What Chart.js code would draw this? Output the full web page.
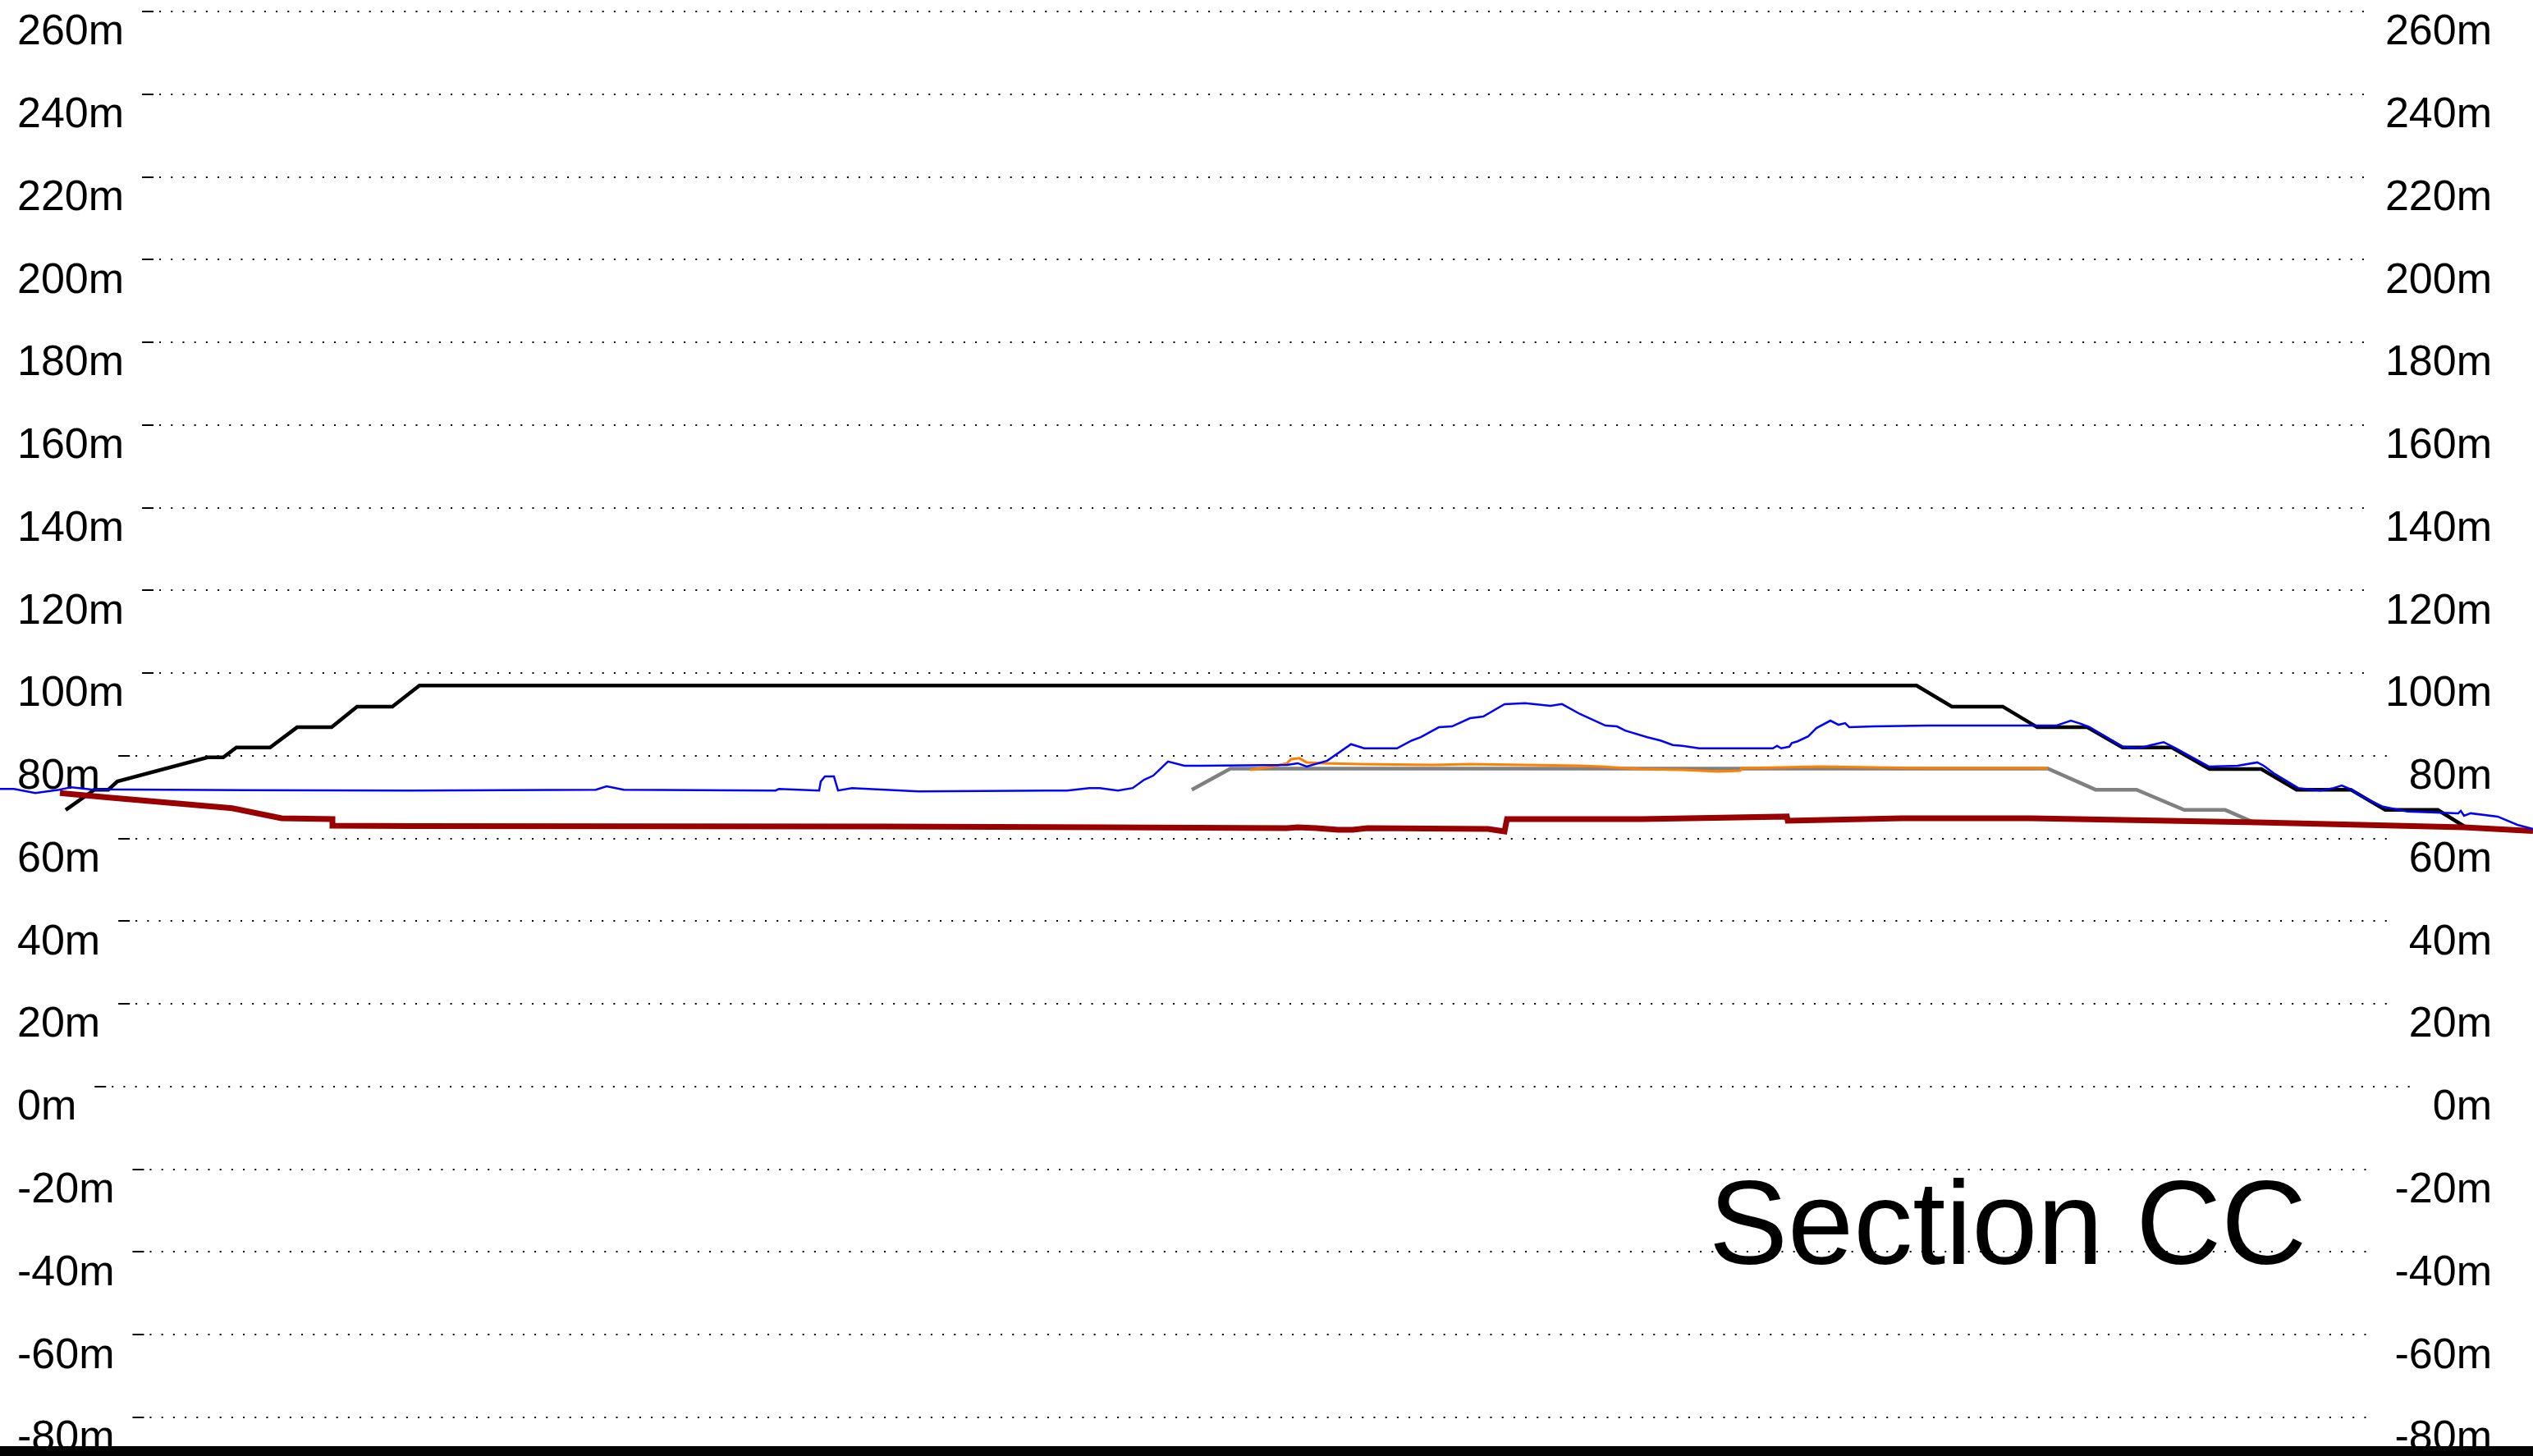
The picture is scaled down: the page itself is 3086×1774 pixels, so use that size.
<!DOCTYPE html>
<html>
<head>
<meta charset="utf-8">
<script src="https://cdn.jsdelivr.net/npm/chart.js@4.4.1/dist/chart.umd.min.js"></script>
<style>
  html, body { margin: 0; padding: 0; background: #fff; }
  #wrap { width: 3086px; height: 1774px; position: relative; }
</style>
</head>
<body>
<div id="wrap"><canvas id="sectionChart"></canvas></div>
<script>
// elevation ticks (m)
const levelTicks = [260, 240, 220, 200, 180, 160, 140, 120, 100, 80, 60, 40, 20, 0, -20, -40, -60, -80];

// design profile (black)
const designX = [80, 115, 132, 143, 253, 272, 288, 329, 362, 404, 435, 478, 511, 2335, 2378, 2440, 2482, 2543, 2586, 2646, 2692, 2755, 2798, 2864, 2906, 2970, 3005];
const designY = [66.9, 71.8, 71.8, 73.8, 79.6, 79.6, 82.0, 82.0, 86.9, 86.9, 91.9, 91.9, 97.0, 97.0, 91.9, 91.9, 86.9, 86.9, 82.0, 82.0, 76.8, 76.8, 71.8, 71.8, 66.9, 66.9, 62.6];

// existing ground (blue)
const groundX = [0, 17, 43, 72, 87, 110, 300, 500, 726, 739, 760, 945, 949, 998, 1000, 1005, 1016, 1021, 1038, 1119, 1275, 1300, 1327, 1340, 1362, 1380, 1394, 1405, 1423, 1443, 1461, 1568, 1581, 1592, 1617, 1646, 1662, 1702, 1720, 1731, 1753, 1769, 1791, 1807, 1833, 1858, 1889, 1903, 1925, 1956, 1970, 1980, 2007, 2023, 2038, 2050, 2070, 2117, 2160, 2165, 2170, 2180, 2183, 2190, 2203, 2213, 2230, 2240, 2248, 2253, 2283, 2350, 2480, 2505, 2523, 2536, 2546, 2586, 2606, 2621, 2636, 2651, 2691, 2726, 2750, 2758, 2770, 2800, 2827, 2843, 2853, 2865, 2877, 2903, 2933, 2995, 2998, 3002, 3010, 3043, 3067, 3086];
const groundY = [72.0, 72.0, 71.0, 71.8, 72.4, 71.9, 71.7, 71.6, 71.8, 72.6, 71.8, 71.6, 72.0, 71.6, 73.8, 75.0, 75.0, 71.6, 72.2, 71.4, 71.6, 71.6, 72.2, 72.2, 71.6, 72.2, 74.2, 75.2, 78.6, 77.6, 77.6, 77.8, 78.2, 77.4, 78.8, 82.8, 81.8, 81.8, 83.7, 84.5, 86.9, 87.1, 89.1, 89.5, 92.5, 92.7, 92.1, 92.5, 90.1, 87.3, 87.1, 86.1, 84.5, 83.7, 82.6, 82.4, 81.8, 81.8, 81.8, 82.4, 81.8, 82.2, 83.1, 83.5, 84.7, 86.7, 88.5, 87.5, 87.9, 86.9, 87.1, 87.3, 87.3, 87.3, 88.5, 87.7, 86.9, 82.2, 81.8, 82.6, 83.3, 81.8, 77.4, 77.6, 78.4, 77.6, 75.8, 72.2, 71.6, 72.2, 72.8, 71.8, 70.2, 67.7, 66.5, 66.1, 66.7, 65.5, 66.1, 65.3, 63.3, 62.3];

// platform level (orange)
const platformX = [1523, 1550, 1568, 1573, 1583, 1592, 1612, 1657, 1746, 1791, 1858, 1925, 1950, 2000, 2050, 2093, 2120, 2122, 2217, 2350, 2495];
const platformY = [76.6, 77.4, 78.2, 79.2, 79.4, 78.4, 78.2, 78.0, 77.8, 78.0, 77.8, 77.6, 77.4, 76.8, 76.6, 76.2, 76.4, 77.0, 77.4, 77.0, 77.0];

// formation (grey)
const formationX = [1452, 1499, 2495, 2553, 2603, 2661, 2711, 2746];
const formationY = [71.8, 76.9, 76.9, 71.8, 71.8, 66.9, 66.9, 63.9];

// rock head (dark red)
const rockX = [73, 133, 283, 343, 405, 405, 500, 1074, 1350, 1568, 1581, 1604, 1630, 1648, 1666, 1813, 1833, 1836, 2000, 2177, 2178, 2317, 2475, 2751, 3002, 3086];
const rockY = [71.0, 69.9, 67.3, 64.9, 64.7, 63.1, 63.0, 62.9, 62.7, 62.5, 62.7, 62.5, 62.1, 62.1, 62.5, 62.3, 61.7, 64.7, 64.7, 65.3, 64.3, 64.9, 64.9, 63.9, 62.7, 61.8];

function pts(xs, ys) {
    return xs.map((x, i) => ({ x: x, y: ys[i] }));
}

const labelFont = '52px "Liberation Sans", Arial, sans-serif';
const leftLabelX = 21;
const rightLabelX = 3036;

// dotted grid lines that stop short of the labels on both sides
const dottedGrid = {
    id: 'dottedGrid',
    beforeDatasetsDraw(chart) {
        const ctx = chart.ctx;
        const scale = chart.scales.y;
        ctx.save();
        ctx.font = labelFont;
        ctx.strokeStyle = '#000';
        ctx.lineWidth = 2;
        levelTicks.forEach(v => {
            const py = Math.round(scale.getPixelForValue(v));
            const w = ctx.measureText(v + 'm').width;
            const x0 = leftLabelX + w + 22;
            const x1 = rightLabelX - w - 24;
            ctx.setLineDash([]);
            ctx.beginPath();
            ctx.moveTo(x0, py);
            ctx.lineTo(x0 + 14, py);
            ctx.stroke();
            ctx.setLineDash([2, 12.2]);
            ctx.beginPath();
            ctx.moveTo(x0 + 21, py);
            ctx.lineTo(x1, py);
            ctx.stroke();
        });
        ctx.restore();
    }
};

const sectionLabel = {
    id: 'sectionLabel',
    afterDraw(chart) {
        const ctx = chart.ctx;
        ctx.save();
        ctx.font = '144px "Liberation Sans", Arial, sans-serif';
        ctx.fillStyle = '#000';
        ctx.textAlign = 'left';
        ctx.textBaseline = 'alphabetic';
        ctx.fillText('Section CC', 2082, 1540);
        ctx.restore();
    }
};

const yAxis = (pos) => ({
    position: pos,
    min: -89.34,
    max: 262.78,
    afterBuildTicks: (scale) => { scale.ticks = levelTicks.map(v => ({ value: v })); },
    afterFit: (scale) => {
        scale.width = 0;
        scale.paddingTop = 0;
        scale.paddingBottom = 0;
    },
    grid: { display: false, drawTicks: false },
    border: { display: false },
    ticks: {
        mirror: true,
        padding: pos === 'left' ? leftLabelX : rightLabelX - 3086,
        autoSkip: false,
        labelOffset: 26,
        color: '#000',
        font: { family: '"Liberation Sans", Arial, sans-serif', size: 52 },
        callback: (v) => v + 'm'
    }
});

new Chart(document.getElementById('sectionChart').getContext('2d'), {
    type: 'line',
    data: {
        datasets: [
            { label: 'Ground', data: pts(groundX, groundY), borderColor: '#0000ff', borderWidth: 2.5, order: 1 },
            { label: 'Rock head', data: pts(rockX, rockY), borderColor: '#990000', borderWidth: 7, order: 2 },
            { label: 'Design', data: pts(designX, designY), borderColor: '#000000', borderWidth: 4.5, order: 3 },
            { label: 'Platform', data: pts(platformX, platformY), borderColor: '#ff8000', borderWidth: 3, order: 4 },
            { label: 'Formation', data: pts(formationX, formationY), borderColor: '#808080', borderWidth: 4.5, order: 5 }
        ]
    },
    options: {
        responsive: true,
        maintainAspectRatio: false,
        devicePixelRatio: 1,
        animation: false,
        layout: { padding: 0 },
        elements: { point: { radius: 0 }, line: { tension: 0, fill: false } },
        scales: {
            x: {
                type: 'linear',
                min: 0,
                max: 3086,
                afterFit: (scale) => {
                    scale.height = 0;
                    scale.paddingLeft = 0;
                    scale.paddingRight = 0;
                },
                grid: { display: false, drawTicks: false },
                ticks: { display: false },
                border: { display: true, color: '#000', width: 24 }
            },
            y: yAxis('left'),
            yRight: yAxis('right')
        },
        plugins: {
            legend: { display: false },
            tooltip: { enabled: false }
        }
    },
    plugins: [dottedGrid, sectionLabel]
});
</script>
</body>
</html>
